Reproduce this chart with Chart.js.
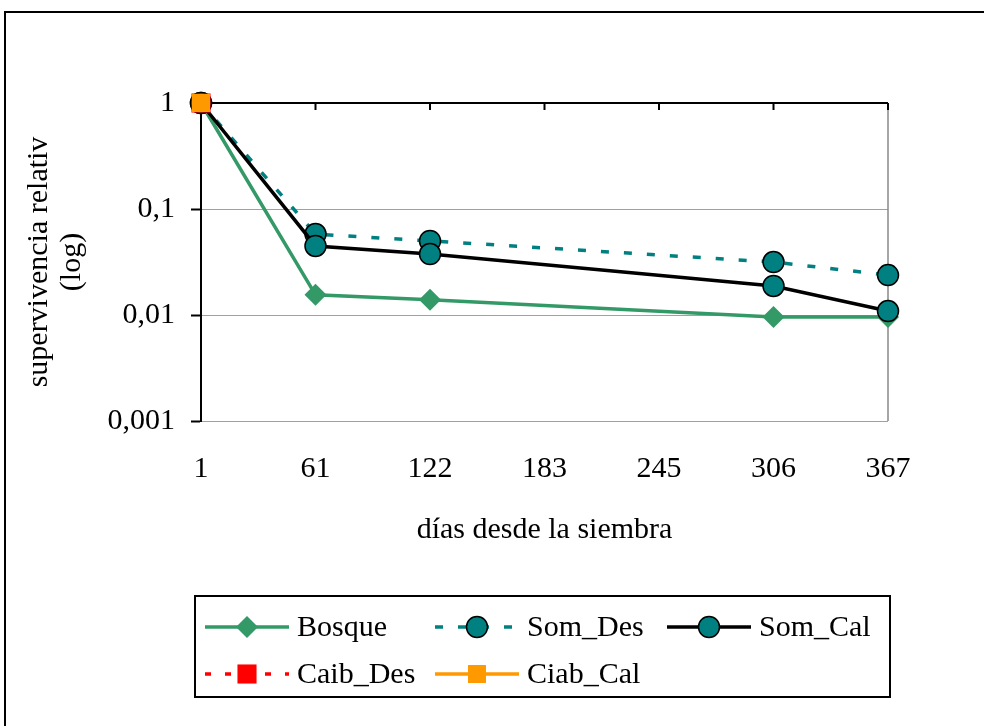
<!DOCTYPE html>
<html>
<head>
<meta charset="utf-8">
<script src="https://cdn.jsdelivr.net/npm/chart.js@4/dist/chart.umd.min.js"></script>
<style>
  html, body { margin: 0; padding: 0; background: #fff; }
  #wrap { width: 984px; height: 726px; position: relative; }
</style>
</head>
<body>
<div id="wrap"><canvas id="survivalChart"></canvas></div>
<script>
const days = ["1", "61", "122", "183", "245", "306", "367"]
const bosque = [1, 0.0155, 0.0139, null, null, 0.0096, 0.0096]
const somDes = [1, 0.058, 0.050, null, null, 0.0316, 0.0238]
const somCal = [1, 0.0448, 0.0376, null, null, 0.0188, 0.0109]
const caibDes = [1, null, null, null, null, null, null]
const ciabCal = [1, null, null, null, null, null, null]
const yTickValues = [1, 0.1, 0.01, 0.001]

const serif = "'Liberation Serif', 'Times New Roman', serif"

const colors = {
    bosque: "#339966",
    teal: "#008080",
    black: "#000000",
    red: "#FF0000",
    orange: "#FF9900",
    grid: "#a0a0a0",
}

// legend slots: [x, y] of the line sample start
const legendSlots = [[205, 627], [435, 627], [667, 627], [205, 674], [435, 674]]

const framePlugin = {
    id: "frame",
    beforeDraw(chart) {
        const { ctx } = chart
        ctx.save()
        ctx.fillStyle = "#fff"
        ctx.fillRect(0, 0, chart.width, chart.height)
        ctx.strokeStyle = "#000"
        ctx.lineWidth = 2
        ctx.strokeRect(5, 12, chart.width + 20, chart.height + 20)
        ctx.restore()
    },
    beforeDatasetsDraw(chart) {
        const { ctx, chartArea } = chart
        const xScale = chart.scales.x
        ctx.save()
        // right border of plot area
        ctx.strokeStyle = "#888"
        ctx.lineWidth = 1.5
        ctx.beginPath()
        ctx.moveTo(chartArea.right, chartArea.top)
        ctx.lineTo(chartArea.right, chartArea.bottom)
        ctx.stroke()
        // category axis crosses at 1 (top)
        ctx.strokeStyle = "#000"
        ctx.lineWidth = 2
        ctx.beginPath()
        ctx.moveTo(chartArea.left, chartArea.top)
        ctx.lineTo(chartArea.right, chartArea.top)
        for (let i = 0; i < days.length; i++) {
            const px = xScale.getPixelForTick(i)
            ctx.moveTo(px, chartArea.top)
            ctx.lineTo(px, chartArea.top + 7)
        }
        ctx.stroke()
        ctx.restore()
    },
    afterDraw(chart) {
        const { ctx } = chart
        const drawPoint = Chart.helpers && Chart.helpers.drawPoint
        ctx.save()
        ctx.strokeStyle = "#000"
        ctx.lineWidth = 2
        ctx.strokeRect(195, 596, 695, 101)
        chart.data.datasets.forEach((ds, i) => {
            const [x, y] = legendSlots[i]
            ctx.save()
            ctx.strokeStyle = ds.borderColor
            ctx.lineWidth = ds.borderWidth
            ctx.setLineDash(ds.borderDash || [])
            ctx.beginPath()
            ctx.moveTo(x, y)
            ctx.lineTo(x + 84, y)
            ctx.stroke()
            ctx.restore()
            if (drawPoint) {
                ctx.save()
                ctx.fillStyle = ds.pointBackgroundColor
                ctx.strokeStyle = ds.pointBorderColor
                ctx.lineWidth = ds.pointBorderWidth
                drawPoint(ctx, {
                    pointStyle: ds.pointStyle,
                    radius: ds.pointRadius,
                    borderWidth: ds.pointBorderWidth,
                    rotation: 0,
                }, x + 42, y)
                ctx.restore()
            }
            ctx.fillStyle = "#000"
            ctx.font = "30px " + serif
            ctx.textBaseline = "middle"
            ctx.textAlign = "left"
            ctx.fillText(ds.label, x + 92, y + 1)
        })
        ctx.restore()
    },
}

new Chart(document.getElementById("survivalChart"), {
    type: "line",
    data: {
        labels: days,
        datasets: [
            {
                label: "Bosque",
                data: bosque,
                borderColor: colors.bosque,
                backgroundColor: colors.bosque,
                borderWidth: 3.5,
                pointStyle: "rectRot",
                pointRadius: 11,
                pointBackgroundColor: colors.bosque,
                pointBorderColor: colors.bosque,
                pointBorderWidth: 0,
                order: 5,
            },
            {
                label: "Som_Des",
                data: somDes,
                borderColor: colors.teal,
                backgroundColor: colors.teal,
                borderWidth: 3.5,
                borderDash: [8, 15],
                pointStyle: "circle",
                pointRadius: 10.5,
                pointBackgroundColor: colors.teal,
                pointBorderColor: colors.black,
                pointBorderWidth: 1.5,
                order: 4,
            },
            {
                label: "Som_Cal",
                data: somCal,
                borderColor: colors.black,
                backgroundColor: colors.teal,
                borderWidth: 3.5,
                pointStyle: "circle",
                pointRadius: 10.5,
                pointBackgroundColor: colors.teal,
                pointBorderColor: colors.black,
                pointBorderWidth: 1.5,
                order: 3,
            },
            {
                label: "Caib_Des",
                data: caibDes,
                borderColor: colors.red,
                backgroundColor: colors.red,
                borderWidth: 3.5,
                borderDash: [6, 14],
                pointStyle: "rect",
                pointRadius: 13.5,
                pointBackgroundColor: colors.red,
                pointBorderColor: colors.red,
                pointBorderWidth: 0,
                order: 2,
            },
            {
                label: "Ciab_Cal",
                data: ciabCal,
                borderColor: colors.orange,
                backgroundColor: colors.orange,
                borderWidth: 3.5,
                pointStyle: "rect",
                pointRadius: 12.7,
                pointBackgroundColor: colors.orange,
                pointBorderColor: colors.orange,
                pointBorderWidth: 0,
                order: 1,
            },
        ],
    },
    options: {
        responsive: true,
        maintainAspectRatio: false,
        animation: false,
        spanGaps: true,
        clip: false,
        layout: {
            padding: { top: 103, right: 96, left: 0, bottom: 0 },
        },
        elements: {
            line: { tension: 0 },
        },
        plugins: {
            legend: { display: false },
            tooltip: { enabled: false },
        },
        scales: {
            x: {
                type: "category",
                offset: false,
                afterFit: (scale) => { scale.height = 305 },
                grid: { display: false, drawTicks: false },
                border: { display: false },
                ticks: {
                    color: "#000",
                    padding: 30,
                    maxRotation: 0,
                    autoSkip: false,
                    font: { family: serif, size: 30 },
                },
                title: {
                    display: true,
                    text: "días desde la siembra",
                    color: "#000",
                    font: { family: serif, size: 30, lineHeight: 1.2 },
                    padding: { top: 0, bottom: 178 },
                },
            },
            y: {
                type: "logarithmic",
                min: 0.001,
                max: 1,
                afterFit: (scale) => { scale.width = 201 },
                afterBuildTicks: (scale) => {
                    scale.ticks = yTickValues.map((v) => ({ value: v }))
                },
                grid: {
                    color: (ctx) => (ctx.tick && ctx.tick.value === 1 ? "rgba(0,0,0,0)" : colors.grid),
                    lineWidth: 1,
                    tickColor: "#000",
                    tickLength: 10,
                    tickWidth: 2,
                },
                border: { display: true, color: "#000", width: 2 },
                ticks: {
                    color: "#000",
                    padding: 16,
                    font: { family: serif, size: 30 },
                    callback: (value) => String(value).replace(".", ","),
                },
                title: {
                    display: true,
                    text: ["supervivencia relativ", "(log)"],
                    color: "#000",
                    font: { family: serif, size: 30, lineHeight: 1.1 },
                    padding: { top: 23, bottom: 0 },
                },
            },
        },
    },
    plugins: [framePlugin],
})
</script>
</body>
</html>
